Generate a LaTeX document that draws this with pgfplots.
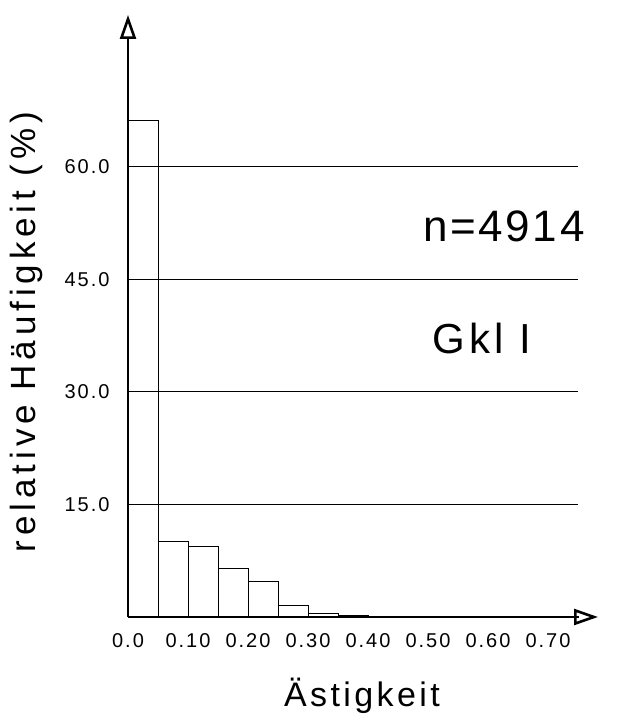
\documentclass[border=0pt]{standalone}
\usepackage{fontspec}
\setmainfont{Liberation Sans}
\newfontfamily\plotfont[LetterSpace=10]{Liberation Sans}
\newfontfamily\plotfontw[LetterSpace=14]{Liberation Sans}
\newfontfamily\plotfontn[LetterSpace=6]{Liberation Sans}
\usepackage{pgfplots}
\pgfplotsset{compat=1.18}
\usetikzlibrary{arrows.meta}
\begin{document}
\begin{tikzpicture}
\path[use as bounding box] (-128pt,-102pt) rectangle (490pt,617pt);
\begin{axis}[
  at={(0pt,0pt)}, anchor=south west,
  scale only axis, width=450pt, height=602pt,
  xmin=0, xmax=0.75, ymin=0, ymax=80.2,
  axis lines=left,
  x axis line style={line width=2.4pt, -{Triangle[open,length=24pt,width=16pt,line width=2.6pt]}, shorten >=-20pt},
  y axis line style={line width=2.4pt, -{Triangle[open,length=24pt,width=16pt,line width=2.6pt]}},
  xtick={0,0.1,0.2,0.3,0.4,0.5,0.6,0.7},
  xticklabels={0.0,0.10,0.20,0.30,0.40,0.50,0.60,0.70},
  ytick={15,30,45,60},
  yticklabels={15.0,30.0,45.0,60.0},
  major tick length=0pt,
  ymajorgrids, grid style={line width=1.2pt, black},
  /pgf/number format/assume math mode=true,
  ticklabel style={font=\plotfont\fontsize{20}{23}\selectfont},
  yticklabel style={xshift=-15pt},
  xticklabel style={yshift=-13pt},
  clip=false,
]
\addplot[ybar interval, draw=black, line width=0.9pt, fill=none] coordinates {
 (0,66.1) (0.05,10.1) (0.1,9.4) (0.15,6.5) (0.2,4.8) (0.25,1.6) (0.3,0.45)
 (0.35,0.15) (0.4,0.05) (0.45,0.03) (0.5,0.02) (0.55,0.02) (0.6,0.01)
 (0.65,0.01) (0.7,0.01) (0.75,0.01)};
\end{axis}
\node[rotate=90, font=\plotfontw\fontsize{35}{40}\selectfont] at (-102pt,285pt) {relative Häufigkeit (\%)};
\node[font=\plotfont\fontsize{34}{40}\selectfont] at (234pt,-79pt) {Ästigkeit};
\node[font=\plotfontn\fontsize{44}{50}\selectfont] at (376pt,391pt) {n=4914};
\node[font=\plotfont\fontsize{42}{48}\selectfont] at (354pt,279pt) {Gkl I};
\end{tikzpicture}
\end{document}
